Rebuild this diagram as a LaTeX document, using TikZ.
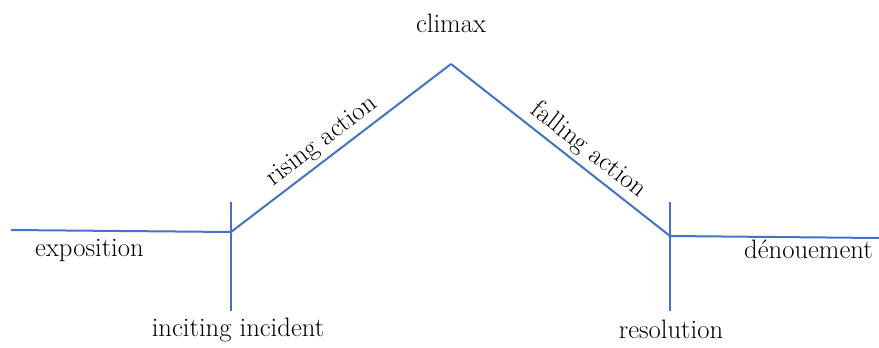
\documentclass[tikz,border=0pt]{standalone}
\usetikzlibrary{positioning}
\definecolor{arcblue}{RGB}{68,114,196}

\begin{document}
\begin{tikzpicture}[
    x=0.75pt, y=-0.75pt,
    arc/.style={draw=arcblue, line width=1.5pt},
    tickline/.style={draw=arcblue, line width=1.5pt},
    stage/.style={font=\fontsize{20}{24}\selectfont, anchor=base, inner sep=0pt},
    slopelabel/.style={font=\fontsize{20}{24}\selectfont, sloped, above, inner sep=3pt}
]
\useasboundingbox (0,0) rectangle (879,347);

% Plot points
\coordinate (start) at (11,230);
\coordinate (incite) at (231,232);
\coordinate (peak) at (451,64);
\coordinate (resolve) at (670,236);
\coordinate (finish) at (879,238);

% Tick ends
\coordinate (incite top) at (231,202);
\coordinate (incite bottom) at (231,311);
\coordinate (resolve top) at (670,202);
\coordinate (resolve bottom) at (670,311);

% The arc
\draw[arc] (start) -- (incite);
\draw[arc] (incite) -- node[slopelabel, pos=0.46] (rising) {rising action} (peak);
\draw[arc] (peak) -- node[slopelabel, pos=0.58] (falling) {falling action} (resolve);
\draw[arc] (resolve) -- (finish);

% Ticks
\draw[tickline] (incite top) -- (incite bottom);
\draw[tickline] (resolve top) -- (resolve bottom);

% Stage labels
\node[stage] (climax) at (451,32) {climax};
\node[stage] (exposition) at (89.5,256) {exposition};
\node[stage] (inciting) at (238,336) {inciting incident};
\node[stage] (resolution) at (671,338) {resolution};
\node[stage] (denouement) at (808.5,258) {dénouement};

\end{tikzpicture}
\end{document}
